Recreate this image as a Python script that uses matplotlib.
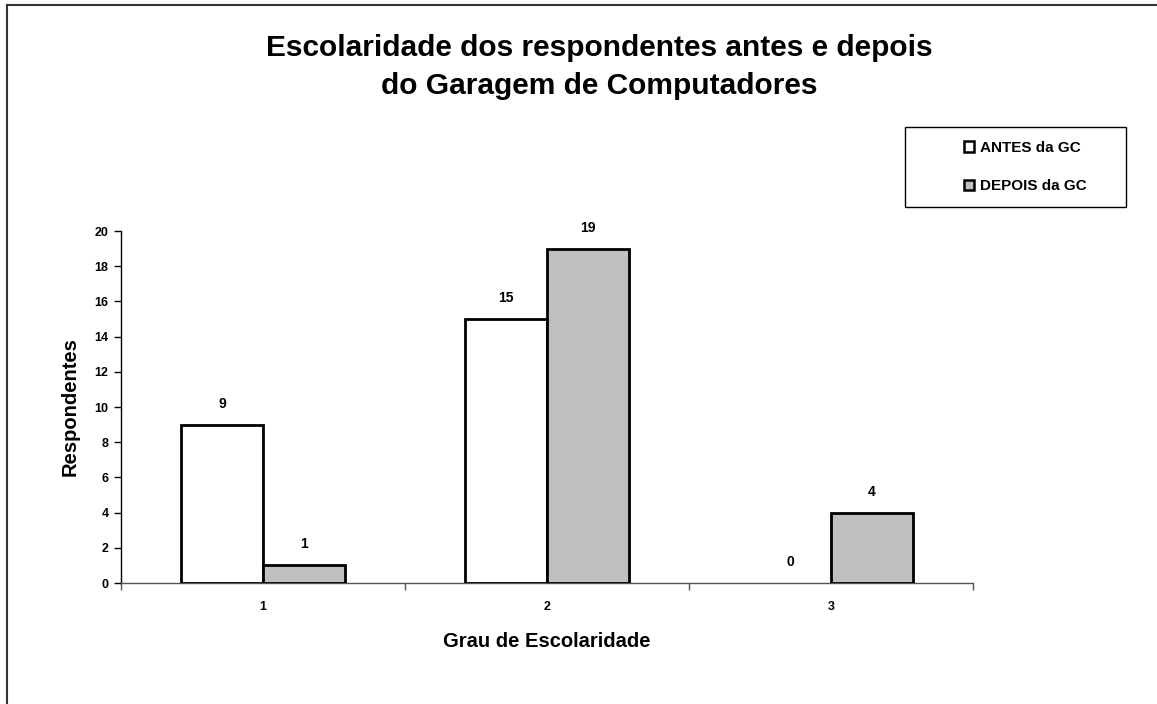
import matplotlib
matplotlib.use("Agg")
import matplotlib.pyplot as plt
from matplotlib.lines import Line2D
from matplotlib.patches import Patch, Rectangle
import numpy as np

plt.rcParams['font.family'] = ['Liberation Sans', 'DejaVu Sans']

categories = ["1", "2", "3"]
antes = [9, 15, 0]
depois = [1, 19, 4]
series_names = ["ANTES da GC", "DEPOIS da GC"]
title_lines = ["Escolaridade dos respondentes antes e depois", "do Garagem de Computadores"]

W, H = 1157, 704
fig = plt.figure(figsize=(W / 100, H / 100), dpi=100)
fig.patch.set_facecolor('white')

# partial border (left and top)
fig.add_artist(Line2D([7 / W, 7 / W], [0, 1 - 5 / H], transform=fig.transFigure, color='#333333', lw=1.5))
fig.add_artist(Line2D([7 / W, 1], [1 - 5 / H, 1 - 5 / H], transform=fig.transFigure, color='#333333', lw=1.5))

ax = fig.add_axes([121 / W, 1 - 583 / H, (973 - 121) / W, (583 - 231) / H])

x = np.arange(len(categories))
bw = 0.288
b1 = ax.bar(x - bw / 2, antes, bw, color='white', edgecolor='black', linewidth=2, zorder=3)
b2 = ax.bar(x + bw / 2, depois, bw, color='#c0c0c0', edgecolor='black', linewidth=2, zorder=3)

for bars, vals in ((b1, antes), (b2, depois)):
    for rect, v in zip(bars, vals):
        if v == 0:
            rect.set_linewidth(0)
        ax.annotate(str(v), (rect.get_x() + rect.get_width() / 2, v), xytext=(0, 21),
                    textcoords='offset pixels', ha='center', va='center',
                    fontsize=10, fontweight='bold')

ax.set_xlim(-0.5, len(categories) - 0.5)
ax.set_ylim(0, 20)
ax.set_yticks(range(0, 21, 2))
ax.set_xticks(x)
ax.set_xticklabels(categories, fontsize=9, fontweight='bold')
ax.set_xticks(np.arange(-0.5, len(categories), 1), minor=True)
ax.tick_params(axis='x', which='major', length=0, pad=13)
ax.tick_params(axis='x', which='minor', length=5, width=1, direction='out', color='#555555')
ax.tick_params(axis='y', length=5, width=1, direction='out', labelsize=9, pad=4)
for lab in ax.get_yticklabels():
    lab.set_fontweight('bold')

for s in ('top', 'right'):
    ax.spines[s].set_visible(False)
ax.spines['left'].set_color('black')
ax.spines['left'].set_linewidth(1)
ax.spines['bottom'].set_color('#555555')
ax.spines['bottom'].set_linewidth(1)

ax.set_xlabel("Grau de Escolaridade", fontsize=14.5, fontweight='bold')
ax.set_ylabel("Respondentes", fontsize=14.5, fontweight='bold')
ax.xaxis.set_label_coords(0.5, (583 - 632) / 352)
ax.yaxis.set_label_coords((80 - 121) / 852, 0.5)

fig.text(599 / W, 1 - 56 / H, title_lines[0], ha='center', va='baseline', fontsize=21.5, fontweight='bold')
fig.text(599 / W, 1 - 94 / H, title_lines[1], ha='center', va='baseline', fontsize=21.5, fontweight='bold')

# legend box
fig.add_artist(Rectangle((905 / W, 1 - 207 / H), (1126 - 905) / W, (207 - 127) / H,
                         transform=fig.transFigure, facecolor='white', edgecolor='black', lw=1, zorder=4))
handles = [Patch(facecolor='white', edgecolor='black', linewidth=1.8),
           Patch(facecolor='#c0c0c0', edgecolor='black', linewidth=1.8)]
leg = fig.legend(handles, series_names, loc='center', bbox_to_anchor=(1025 / W, 1 - 167 / H),
                 frameon=False, prop={'weight': 'bold', 'size': 11},
                 handlelength=0.7, handleheight=0.7, handletextpad=0.35, labelspacing=1.6,
                 borderpad=0, borderaxespad=0)
leg.set_zorder(5)

fig.savefig("out.png", dpi=100)
